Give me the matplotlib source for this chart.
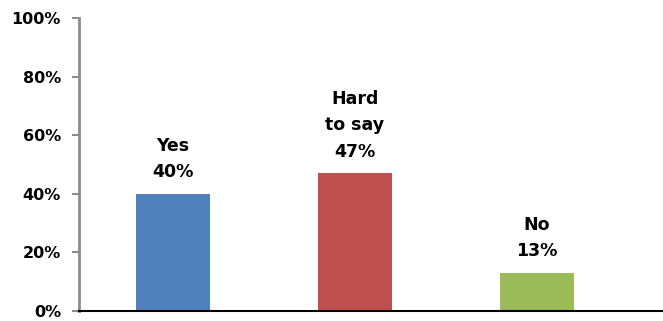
import matplotlib.pyplot as plt
from matplotlib.ticker import PercentFormatter

categories = ["Yes", "Hard\nto say", "No"]
values = [40, 47, 13]
colors = ["#4F81BD", "#C0504D", "#9BBB59"]
yticks = [0, 20, 40, 60, 80, 100]

fig = plt.figure(figsize=(6.63, 3.21), dpi=100)
ax = fig.add_axes([79 / 663, 10 / 321, 584 / 663, 293 / 321])

x = range(len(values))
ax.bar(x, values, width=74 / 182, color=colors, zorder=2)

for i, v in enumerate(values):
    ax.text(i, v + 4.3, f"{categories[i]}\n{v}%", ha="center", va="bottom",
            fontsize=12.5, fontweight="bold", family="DejaVu Sans",
            linespacing=1.6, color="black")

ax.set_ylim(0, 100)
ax.set_xlim(-94 / 182, 490 / 182)
ax.set_yticks(yticks)
ax.yaxis.set_major_formatter(PercentFormatter(decimals=0))
ax.set_xticks([])

for lab in ax.get_yticklabels():
    lab.set_fontweight("bold")
    lab.set_fontsize(11.5)
    lab.set_family("DejaVu Sans")

ax.tick_params(axis="y", direction="out", length=5, width=1.5, color="#8c8c8c", pad=8)
ax.spines["top"].set_visible(False)
ax.spines["right"].set_visible(False)
ax.spines["left"].set_color("#8c8c8c")
ax.spines["left"].set_linewidth(2)
ax.spines["bottom"].set_color("black")
ax.spines["bottom"].set_linewidth(1.5)
ax.spines["bottom"].set_zorder(3)

fig.savefig("out.png", dpi=100)
